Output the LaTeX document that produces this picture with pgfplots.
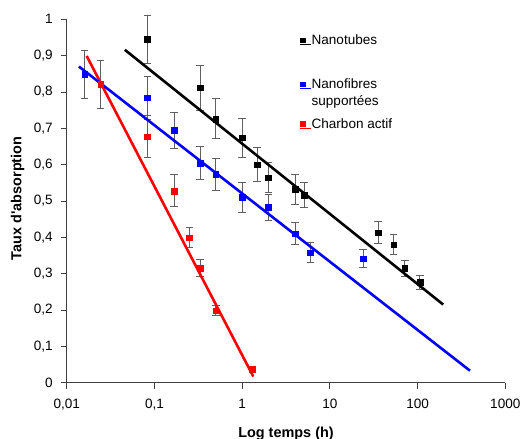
\documentclass[border=0pt]{standalone}
\usepackage{fontspec}
\setmainfont{Liberation Sans}
\usepackage{pgfplots}
\usepackage{pgfplotstable}
\pgfplotsset{compat=1.18}
\usetikzlibrary{calc}
\definecolor{errgray}{RGB}{95,95,95}
\definecolor{pblue}{RGB}{0,0,255}
\definecolor{pred}{RGB}{255,0,0}

\pgfplotstableread{
x y e
0.083 0.946 0.066
0.333 0.812 0.062
0.50 0.726 0.055
1.0 0.674 0.053
1.48 0.600 0.047
2.0 0.564 0.041
4.0 0.532 0.040
5.1 0.516 0.034
35.5 0.413 0.030
53.3 0.380 0.027
71.4 0.314 0.022
106 0.277 0.019
}\tubes

\pgfplotstableread{
x y e
0.016 0.848 0.066
0.083 0.784 0.060
0.167 0.694 0.050
0.333 0.604 0.045
0.50 0.573 0.043
1.0 0.510 0.040
2.0 0.482 0.035
4.0 0.410 0.030
6.0 0.358 0.027
24 0.341 0.025
}\fibres

\pgfplotstableread{
x y e
0.0244 0.822 0.066
0.083 0.677 0.058
0.167 0.528 0.044
0.25 0.399 0.028
0.333 0.316 0.023
0.50 0.198 0.014
1.31 0.038 0.006
}\charbon

\begin{document}
\begin{tikzpicture}
\begin{axis}[
  xmode=log, scale only axis, width=438.6bp, height=363.4bp,
  xmin=0.01, xmax=1000, ymin=0, ymax=1,
  axis lines*=left,
  axis line style={line width=0.8bp, color=black!75},
  xtick={0.01,0.1,1,10,100,1000},
  xticklabels={{0,01},{0,1},1,10,100,1000},
  xminorticks=false,
  ytick={0,0.1,0.2,0.3,0.4,0.5,0.6,0.7,0.8,0.9,1},
  /pgf/number format/.cd, use comma, fixed, precision=1, assume math mode=true,
  /pgfplots/.cd,
  tick align=outside, major tick length=6bp,
  tick style={line width=0.8bp, color=black!75},
  tick label style={font=\fontsize{13.6}{16.7}\selectfont},
  xticklabel style={yshift=-7bp},
  yticklabel style={xshift=-4.5bp},
  xlabel={Log temps (h)}, ylabel={Taux d\textquotesingle absorption},
  label style={font=\fontsize{14.5}{17}\selectfont\bfseries},
  xlabel style={at={(rel axis cs:0.5,-0.1508)}, anchor=base},
  ylabel style={at={(rel axis cs:-0.1035,0.507)}, anchor=base, rotate=0},
  clip=false,
  legend style={at={(rel axis cs:0.532,0.958)}, anchor=north west,
    draw=none, fill=none, inner sep=0pt, row sep=0pt, column sep=0pt,
    font=\fontsize{13.6}{16.7}\selectfont,
    nodes={inner sep=0pt, anchor=base west, text depth={}, text height={}}},
  legend image code/.code={\fill[#1] (0bp,2bp) rectangle (4.8bp,6.8bp); \path (0bp,0bp) -- (11bp,0bp);},
]
\coordinate (bl) at (rel axis cs:0,0);
\coordinate (tr) at (rel axis cs:1,1);

\addlegendimage{black}
\addlegendentry{Nanotubes\rule[-32.3bp]{0pt}{0pt}}
\addlegendimage{pblue}
\addlegendentry{\begin{tabular}[t]{@{}l@{}}Nanofibres\\supportées\end{tabular}\rule[-30bp]{0pt}{0pt}}
\addlegendimage{pred}
\addlegendentry{Charbon actif}

\pgfplotsset{errs/.style={error bars/.cd, y dir=both, y explicit,
   error bar style={line width=0.8bp, errgray},
   error mark options={rotate=90, mark size=3.8bp, line width=0.8bp, errgray}}}

\addplot[only marks, mark=square*, mark size=2.9bp, mark options={fill=black, draw=black}, forget plot, errs]
  table[x=x, y=y, y error=e] {\tubes};
\addplot[only marks, mark=square*, mark size=2.9bp, mark options={fill=pblue, draw=pblue}, forget plot, errs]
  table[x=x, y=y, y error=e] {\fibres};
\addplot[only marks, mark=square*, mark size=2.9bp, mark options={fill=pred, draw=pred}, forget plot, errs]
  table[x=x, y=y, y error=e] {\charbon};

\addplot[pred, line width=2.6bp, forget plot] coordinates {(0.0169,0.899) (1.34,0.017)};
\addplot[pblue, line width=2.6bp, forget plot] coordinates {(0.0138,0.870) (396,0.033)};
\addplot[black, line width=2.6bp, forget plot] coordinates {(0.046,0.916) (196,0.215)};
\end{axis}
\pgfresetboundingbox
\path[use as bounding box] ($(bl)+(-66.7bp,-56.3bp)$) rectangle ($(tr)+(16.7bp,19.3bp)$);
\end{tikzpicture}
\end{document}
